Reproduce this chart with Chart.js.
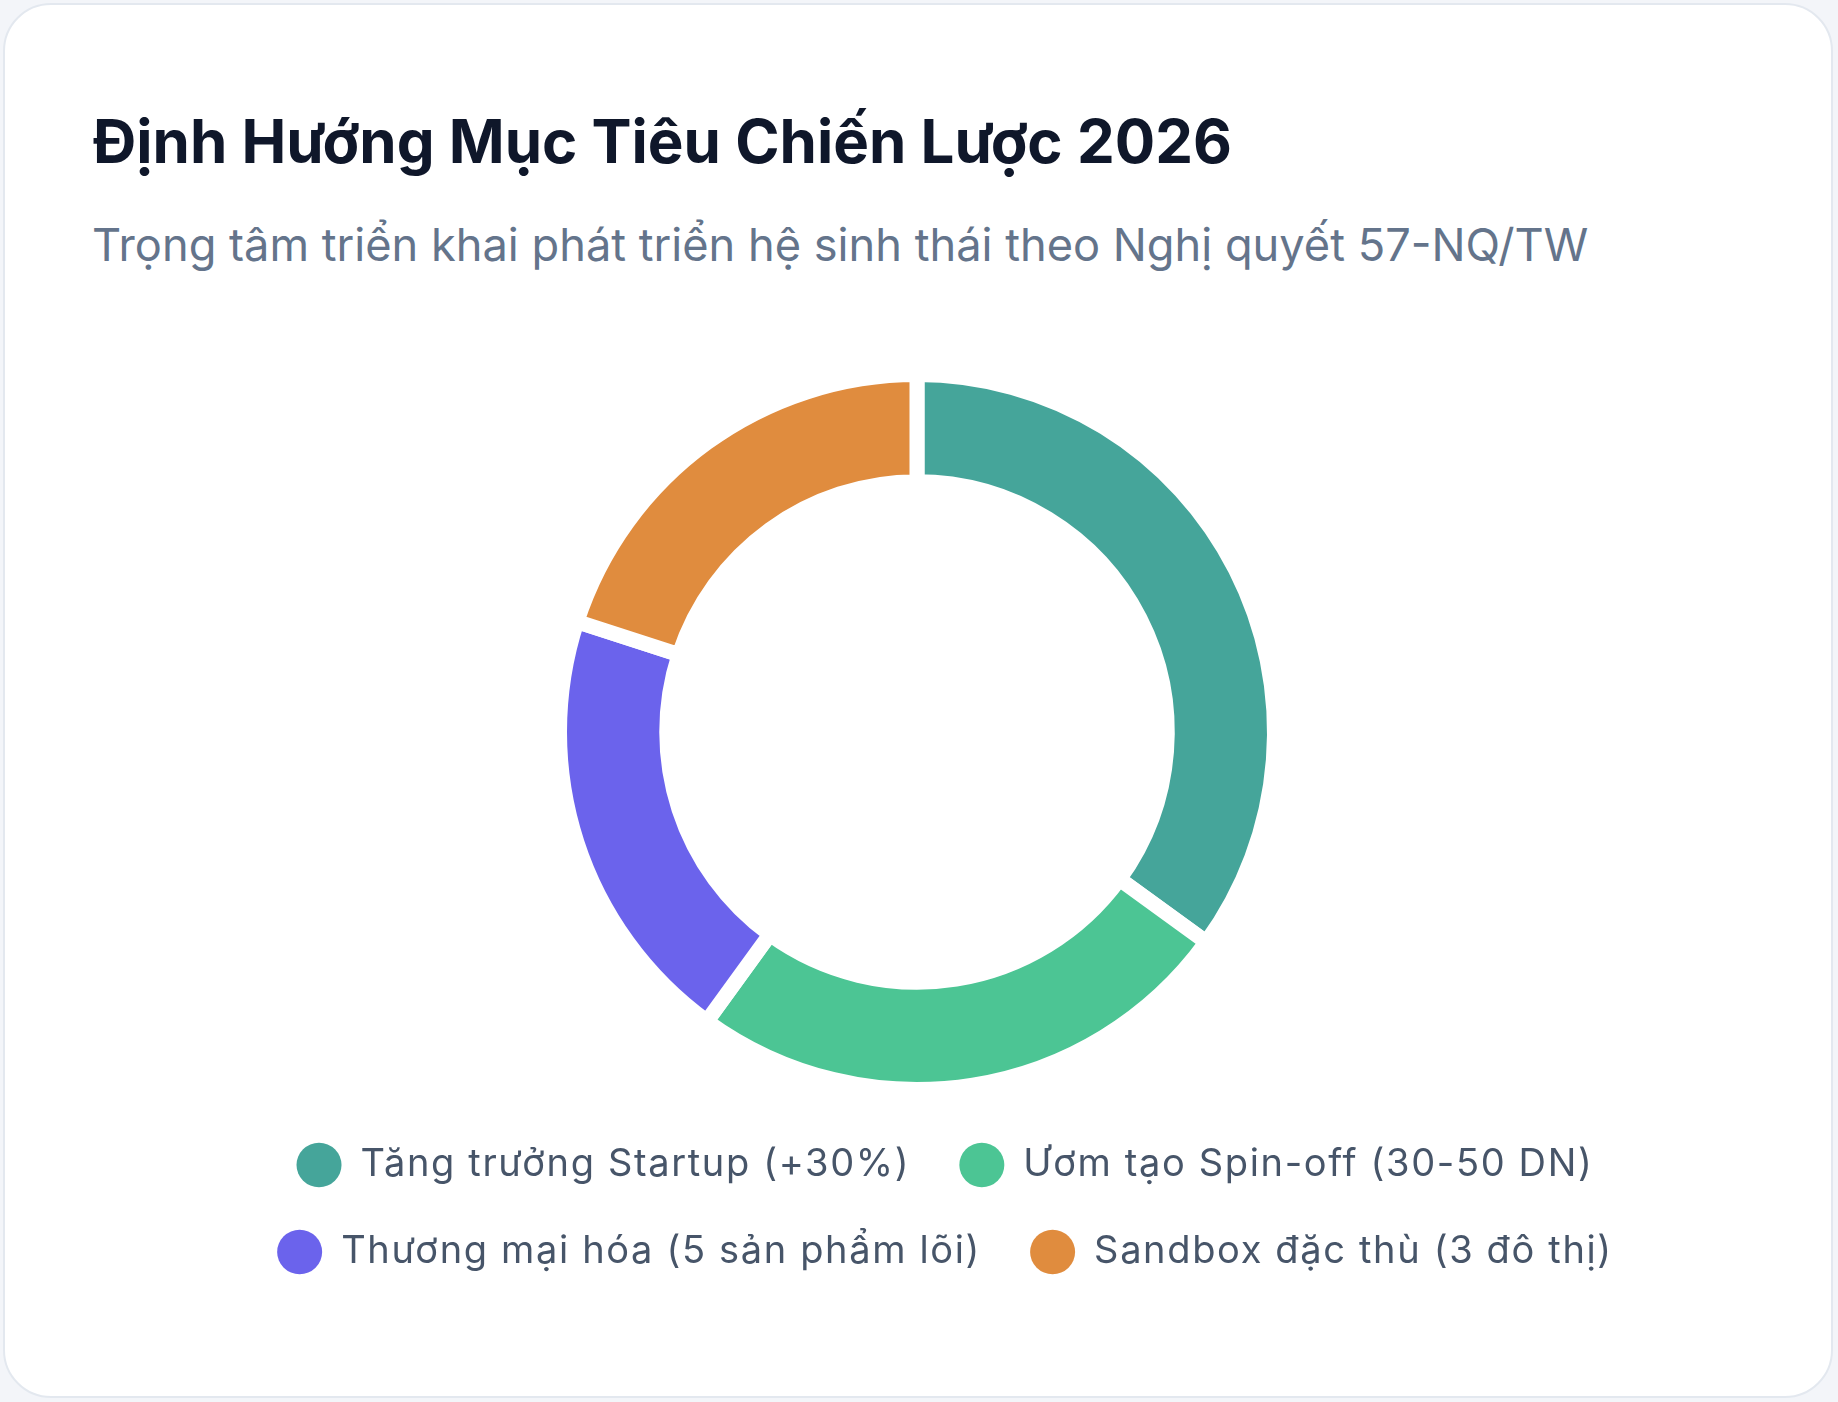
<!DOCTYPE html>
<html lang="vi">
<head>
<meta charset="utf-8">
<title>Định Hướng Mục Tiêu Chiến Lược 2026</title>
<script src="https://cdn.jsdelivr.net/npm/chart.js@4.4.1/dist/chart.umd.min.js"></script>
<style>
  html, body { margin: 0; padding: 0; }
  body { width: 1838px; height: 1402px; background: #f3f5f9; position: relative; overflow: hidden; font-family: Inter, "Noto Sans", sans-serif; }
  .card { position: absolute; left: 3px; top: 3px; width: 1826px; height: 1391px; background: #ffffff; border: 2px solid #e3e8ef; border-radius: 48px; }
  h1 { position: absolute; margin: 0; left: 93px; top: 111px; font-size: 60px; line-height: 60px; font-weight: 700; color: #0f172a; white-space: nowrap; }
  p.sub { position: absolute; margin: 0; left: 92px; top: 222px; font-size: 45.2px; line-height: 45px; font-weight: 400; color: #64748b; white-space: nowrap; }
  .chartbox { position: absolute; left: 145px; top: 367px; width: 1600px; height: 914px; }
</style>
</head>
<body>
<div class="card"></div>
<h1 id="title">Định Hướng Mục Tiêu Chiến Lược 2026</h1>
<p class="sub" id="subtitle">Trọng tâm triển khai phát triển hệ sinh thái theo Nghị quyết 57-NQ/TW</p>
<div class="chartbox"><canvas id="c"></canvas></div>
<script>
const categories = [
  "Tăng trưởng Startup (+30%)",
  "Ươm tạo Spin-off (30-50 DN)",
  "Thương mại hóa (5 sản phẩm lõi)",
  "Sandbox đặc thù (3 đô thị)"
];
const shares = [35, 25, 20, 20];
const colors = ["#45a59a", "#4cc594", "#6b63ec", "#e08c3e"];

const legendSpacing = {
  id: 'legendSpacing',
  beforeLayout(chart) { chart.ctx.letterSpacing = '1.65px'; },
  beforeDraw(chart) { chart.ctx.letterSpacing = '1.65px'; }
};

new Chart(document.getElementById('c'), {
  type: 'doughnut',
  data: {
    labels: categories,
    datasets: [{
      data: shares,
      backgroundColor: colors,
      borderColor: '#ffffff',
      borderWidth: 15,
      hoverOffset: 0
    }]
  },
  plugins: [legendSpacing],
  options: {
    responsive: true,
    maintainAspectRatio: false,
    animation: false,
    cutout: '70%',
    layout: { padding: 0 },
    plugins: {
      tooltip: { enabled: false },
      title: {
        display: true,
        position: 'right',
        text: ' ',
        font: { size: 10, lineHeight: 1 },
        padding: { top: 23, bottom: 23 }
      },
      legend: {
        position: 'bottom',
        labels: {
          usePointStyle: true,
          pointStyle: 'circle',
          pointStyleWidth: 45,
          boxHeight: 31.5,
          padding: 49,
          color: '#475569',
          font: { family: 'Inter', size: 38, weight: '400' },
          generateLabels: (chart) => Chart.overrides.doughnut.plugins.legend.labels.generateLabels(chart).map(l => Object.assign(l, { lineWidth: 0 }))
        }
      }
    }
  }
});
</script>
</body>
</html>
